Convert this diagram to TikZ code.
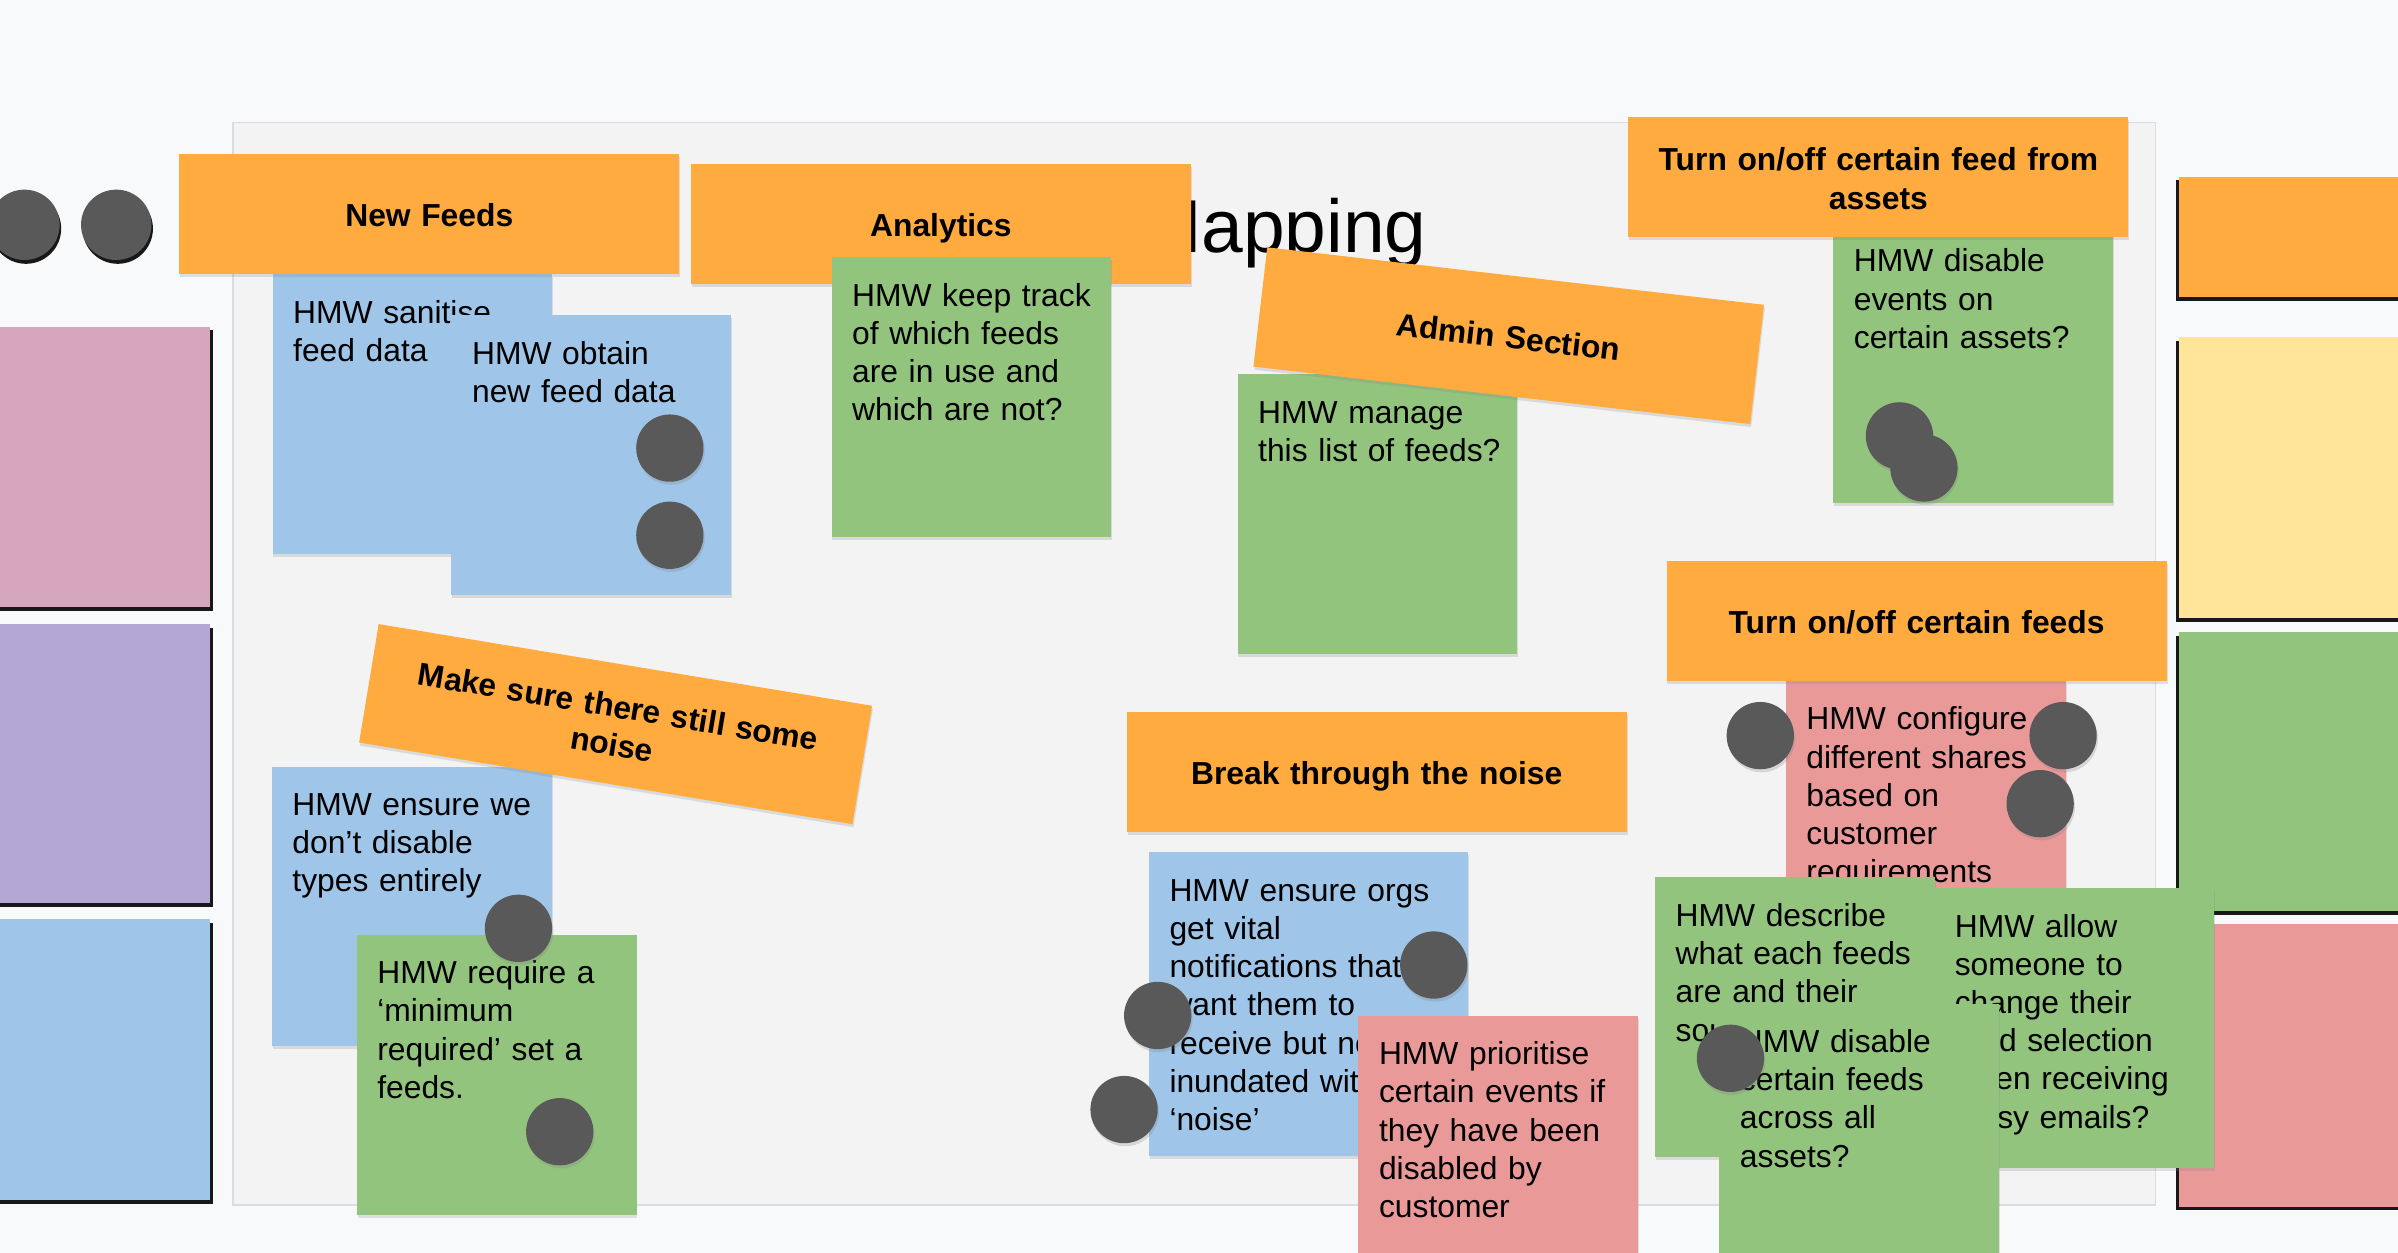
\documentclass[tikz,border=0pt]{standalone}
\usepackage{fontspec}
\setmainfont{Liberation Sans}
\usepackage{tikz}
\usetikzlibrary{positioning,shadows}
\usepackage{xcolor}
\definecolor{pagebg}{HTML}{F8F9FA}
\definecolor{boardbg}{HTML}{F3F3F3}
\definecolor{boardline}{HTML}{DADCE0}
\definecolor{stickyorange}{HTML}{FFAB40}
\definecolor{stickyblue}{HTML}{9FC5E8}
\definecolor{stickygreen}{HTML}{93C47D}
\definecolor{stickypink}{HTML}{EA9999}
\definecolor{stickymauve}{HTML}{D5A6BD}
\definecolor{stickypurple}{HTML}{B4A7D6}
\definecolor{stickyyellow}{HTML}{FFE599}
\definecolor{votegray}{HTML}{595959}

\begin{document}
\begin{tikzpicture}[x=1pt,y=-1pt,every node/.style={inner sep=0pt},
  sticky/.style={anchor=north west,minimum width=183pt,minimum height=183pt,
    drop shadow={shadow xshift=.6pt,shadow yshift=-2pt,opacity=.22}},
  hmw/.style={text width=200pt,text height=15pt,align=left,font=\fontsize{20.8}{25}\selectfont},
  theme/.style={sticky,fill=stickyorange,minimum width=327pt,minimum height=78.5pt,
    text width=315pt,text height=16.5pt,text depth=0pt,align=center,
    font=\bfseries\fontsize{20.8}{25}\selectfont},
  vote/.style={circle,fill=votegray,minimum size=44pt,
    drop shadow={shadow xshift=.8pt,shadow yshift=-2pt,opacity=.25}},
  edgevote/.style={circle,fill=votegray,minimum size=46pt,
    drop shadow={shadow xshift=1pt,shadow yshift=-2.5pt,fill=black,opacity=.9}},
  lefttile/.style={drop shadow={shadow xshift=2pt,shadow yshift=-2.5pt,fill=black,opacity=.9}},
  righttile/.style={drop shadow={shadow xshift=-2pt,shadow yshift=-2.5pt,fill=black,opacity=.9}}]
\useasboundingbox (0,0) rectangle (1568,819);
\clip (0,0) rectangle (1568,819);
\fill[pagebg] (0,0) rectangle (1568,819);
\filldraw[fill=boardbg,draw=boardline,line width=1pt] (152.5,80) rectangle (1409.5,788);
\node (title) [anchor=base east,font=\fontsize{49}{55}\selectfont] at (933,165) {Mapping};

\fill[stickymauve,lefttile] (-20,213.5) rectangle (137,397);
\fill[stickypurple,lefttile] (-20,408) rectangle (137,590.5);
\fill[stickyblue,lefttile] (-20,601) rectangle (137,784.5);
\fill[stickyorange,righttile] (1425,115.5) rectangle (1600,194);
\fill[stickyyellow,righttile] (1425,220.5) rectangle (1600,404);
\fill[stickygreen,righttile] (1425,413.5) rectangle (1600,595.5);
\fill[stickypink,righttile] (1425,604) rectangle (1600,789);
\node (edgevote1) [edgevote] at (16,147) {};
\node (edgevote2) [edgevote] at (76,147) {};

\node (sanitise) [sticky,fill=stickyblue] at (178,179) {};
\node (sanitise-txt) [hmw,below right=17pt and 13.5pt of sanitise.north west] {HMW sanitise\\feed data};
\node (newfeeds) [theme] at (117,100.5) {New Feeds};
\node (obtain) [sticky,fill=stickyblue] at (295,206) {};
\node (obtain-txt) [hmw,below right=17pt and 13.5pt of obtain.north west] {HMW obtain\\new feed data};
\node (obtain-v1) [vote] at (438,293) {};
\node (obtain-v2) [vote] at (438,350) {};

\node (analytics) [theme] at (451.5,107) {Analytics};
\node (track) [sticky,fill=stickygreen] at (543.5,168) {};
\node (track-txt) [hmw,below right=17pt and 13.5pt of track.north west] {HMW keep track\\of which feeds\\are in use and\\which are not?};

\node (manage) [sticky,fill=stickygreen] at (809,244.5) {};
\node (manage-txt) [hmw,below right=17pt and 13.5pt of manage.north west] {HMW manage\\this list of feeds?};
\node (admin) [theme,anchor=center,rotate=-6.6] at (986.5,219.5) {Admin Section};

\node (events) [sticky,fill=stickygreen] at (1198.5,145.5) {};
\node (events-txt) [hmw,below right=17pt and 13.5pt of events.north west] {HMW disable\\events on\\certain assets?};
\node (events-v1) [vote] at (1242,285) {};
\node (events-v2) [vote] at (1258,306) {};
\node (assetfeed) [theme,text depth=25pt] at (1064.5,76.5) {Turn on/off certain feed from\\assets};

\node (shares) [sticky,fill=stickypink] at (1167.5,445) {};
\node (shares-txt) [hmw,below right=17pt and 13.5pt of shares.north west] {HMW configure\\different shares\\based on\\customer\\requirements};
\node (shares-v1) [vote] at (1151,481) {};
\node (shares-v2) [vote] at (1349,481) {};
\node (shares-v3) [vote] at (1334,525.5) {};
\node (feeds) [theme] at (1089.5,366.5) {Turn on/off certain feeds};

\node (describe) [sticky,fill=stickygreen] at (1082,573.5) {};
\node (describe-txt) [hmw,below right=17pt and 13.5pt of describe.north west] {HMW describe\\what each feeds\\are and their\\source?};
\node (allow) [sticky,fill=stickygreen] at (1264.5,580.5) {};
\node (allow-txt) [hmw,below right=17pt and 13.5pt of allow.north west] {HMW allow\\someone to\\change their\\feed selection\\when receiving\\noisy emails?};
\node (across) [sticky,fill=stickygreen] at (1124,656) {};
\node (across-txt) [hmw,below right=17pt and 13.5pt of across.north west] {HMW disable\\certain feeds\\across all\\assets?};
\node (across-v1) [vote] at (1131.5,692) {};

\node (types) [sticky,fill=stickyblue] at (177.5,501) {};
\node (types-txt) [hmw,below right=17pt and 13.5pt of types.north west] {HMW ensure we\\don’t disable\\types entirely};
\node (noise) [theme,text depth=25pt,anchor=center,rotate=-9.4] at (402.5,473.5) {Make sure there still some\\noise};
\node (minimum) [sticky,fill=stickygreen] at (233,611) {};
\node (minimum-txt) [hmw,below right=17pt and 13.5pt of minimum.north west] {HMW require a\\‘minimum\\required’ set a\\feeds.};
\node (minimum-v1) [vote] at (339,607) {};
\node (minimum-v2) [vote] at (366,740) {};

\node (orgs) [sticky,fill=stickyblue,minimum width=209pt,minimum height=198.5pt] at (751,557) {};
\node (orgs-txt) [hmw,below right=17pt and 13.5pt of orgs.north west] {HMW ensure orgs\\get vital\\notifications that\\want them to\\receive but not\\inundated with\\‘noise’};
\node (orgs-v1) [vote] at (937.5,631) {};
\node (orgs-v2) [vote] at (757,664) {};
\node (orgs-v3) [vote] at (735,725.5) {};
\node (prioritise) [sticky,fill=stickypink] at (888,664) {};
\node (prioritise-txt) [hmw,below right=17pt and 13.5pt of prioritise.north west] {HMW prioritise\\certain events if\\they have been\\disabled by\\customer};
\node (breakthrough) [theme] at (736.5,465.5) {Break through the noise};
\end{tikzpicture}
\end{document}
